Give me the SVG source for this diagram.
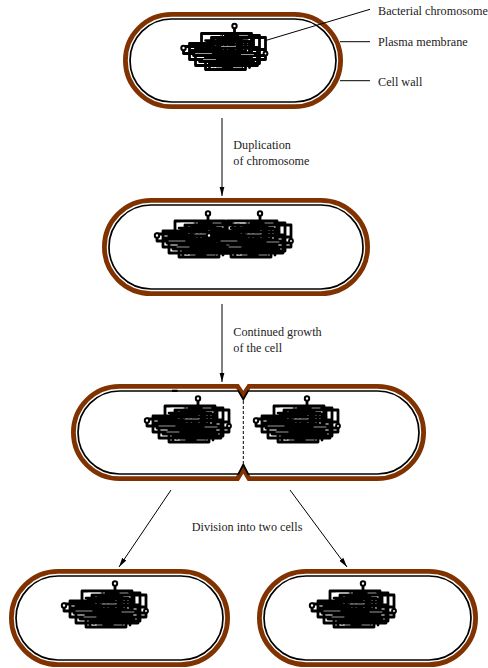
<svg xmlns="http://www.w3.org/2000/svg" xmlns:xlink="http://www.w3.org/1999/xlink" width="488" height="668" viewBox="0 0 488 668">
<style>
.wall{fill:none;stroke:#803300;stroke-width:4.8;stroke-linejoin:miter}
.memb{fill:none;stroke:#000;stroke-width:1.7}
.tubeO{fill:none;stroke:#000;stroke-width:2.8;stroke-linejoin:round;stroke-linecap:round}
.tubeI{fill:none;stroke:#fff;stroke-width:0.6;stroke-linecap:round}
.core{fill:none;stroke:#000;stroke-width:2.6;stroke-linecap:round}
.knob{fill:#fff;stroke:#000;stroke-width:2}
.lbl{font-family:"Liberation Serif","Times New Roman",serif;font-size:12.2px;fill:#222}
.con{stroke:#000;stroke-width:1;fill:none}
</style>
<defs>
<marker id="ah" markerUnits="userSpaceOnUse" markerWidth="11" markerHeight="6" refX="9.5" refY="2.5" orient="auto">
<path d="M0,0 L9.5,2.5 L0,5 Z" fill="#000"/>
</marker>
<path id="cp" d="M53,4 V10 M20,10 H70 V30 H20 Z M30,14 H84 V36 H30 Z M8,20 H52 V36 H8 Z M14,24 H76 V42 H14 Z M24,28 H64 V46 H24 Z M36,16 H60 V44 H36 Z M2,23 H30 V30 H2 Z M44,12 H78 V40 H44 Z M12,32 H82 M18,38 H72 M26,18 H66 M28,22 V44 M40,12 V46 M48,14 V46 M56,10 V44 M68,18 V44 M72,12 V26 H82 M10,27 H40 M16,30 H78"/>
<path id="cc" d="M24,17 H66 M22,21 H72 M26,25 H74 M22,29 H70 M26,34 H68 M28,40 H62 M32,15 V43 M37,15 V45 M44,13 V44 M50,13 V43 M58,15 V42 M64,18 V40 M70,20 V36"/>
<path id="cw" d="M14,30 H30 M22,36 H34 M40,23 H54 M60,31 H72 M30,44 H40 M52,44 H60 M26,12 H40 M58,12 H66"/>
<g id="chromo">
<use xlink:href="#cp" href="#cp" class="tubeO"/>
<use xlink:href="#cc" href="#cc" class="core"/>
<use xlink:href="#cw" href="#cw" class="tubeI"/>
<circle class="knob" cx="53" cy="2.5" r="2.2"/>
<circle class="knob" cx="2" cy="24.5" r="2.2"/>
<circle class="knob" cx="84" cy="30" r="1.9"/>
</g>
</defs>
<rect width="488" height="668" fill="#fff"/>

<g id="cell1">
<rect class="wall" x="125.4" y="14.4" width="215.2" height="92.2" rx="46.1"/>
<rect class="memb" x="130" y="19" width="206" height="83" rx="41.5"/>
<use xlink:href="#chromo" href="#chromo" x="181.5" y="23.5"/>
</g>

<g id="cell2">
<rect class="wall" x="104.4" y="200.4" width="263.2" height="93.2" rx="46.6"/>
<rect class="memb" x="109" y="205" width="254" height="84" rx="42"/>
<use xlink:href="#chromo" href="#chromo" x="155" y="211"/>
<use xlink:href="#chromo" href="#chromo" x="207" y="211"/>
</g>

<g id="cell3">
<path class="wall" d="M237.5,386.4 H119.5 A46.1,46.1 0 0 0 119.5,478.6 H237.5 L243.3,469 L249,478.6 H377.5 A46.1,46.1 0 0 0 377.5,386.4 H249 L243.3,395 Z"/>
<path class="memb" d="M238.5,391 H119.5 A41.5,41.5 0 0 0 119.5,474 H238.5 L243.3,464.5 L248,474 H377.5 A41.5,41.5 0 0 0 377.5,391 H248 L243.3,399.5 Z"/>
<path d="M243.3,401 V463" stroke="#000" stroke-width="1" stroke-dasharray="3 2" fill="none"/>
<rect x="172" y="389.7" width="5.5" height="2.3" fill="#000"/>
<use xlink:href="#chromo" href="#chromo" x="145" y="396"/>
<use xlink:href="#chromo" href="#chromo" x="254" y="396"/>
</g>

<g id="cell4">
<rect class="wall" x="11.4" y="571.4" width="216.2" height="93.2" rx="46.6"/>
<rect class="memb" x="16" y="576" width="207" height="84" rx="42"/>
<use xlink:href="#chromo" href="#chromo" x="62" y="581"/>
</g>

<g id="cell5">
<rect class="wall" x="259.4" y="571.4" width="216.2" height="93.2" rx="46.6"/>
<rect class="memb" x="264" y="576" width="207" height="84" rx="42"/>
<use xlink:href="#chromo" href="#chromo" x="310" y="581"/>
</g>

<g id="connectors">
<line class="con" x1="222" y1="118" x2="222" y2="196" marker-end="url(#ah)"/>
<line class="con" x1="222" y1="304" x2="222" y2="382" marker-end="url(#ah)"/>
<line class="con" x1="171" y1="490" x2="119" y2="567" marker-end="url(#ah)"/>
<line class="con" x1="290" y1="490" x2="347" y2="567" marker-end="url(#ah)"/>
<line class="con" x1="370" y1="9.3" x2="265" y2="40.7"/>
<line class="con" x1="340" y1="41.7" x2="370" y2="41.7"/>
<line class="con" x1="340" y1="80.7" x2="370" y2="80.7"/>
</g>

<g id="labels">
<text class="lbl" x="378" y="15">Bacterial chromosome</text>
<text class="lbl" x="378" y="46">Plasma membrane</text>
<text class="lbl" x="378" y="86">Cell wall</text>
<text class="lbl" x="233.3" y="149">Duplication</text>
<text class="lbl" x="233.3" y="165">of chromosome</text>
<text class="lbl" x="233.3" y="335.7">Continued growth</text>
<text class="lbl" x="233.3" y="352">of the cell</text>
<text class="lbl" x="191.7" y="530.7">Division into two cells</text>
</g>
</svg>
